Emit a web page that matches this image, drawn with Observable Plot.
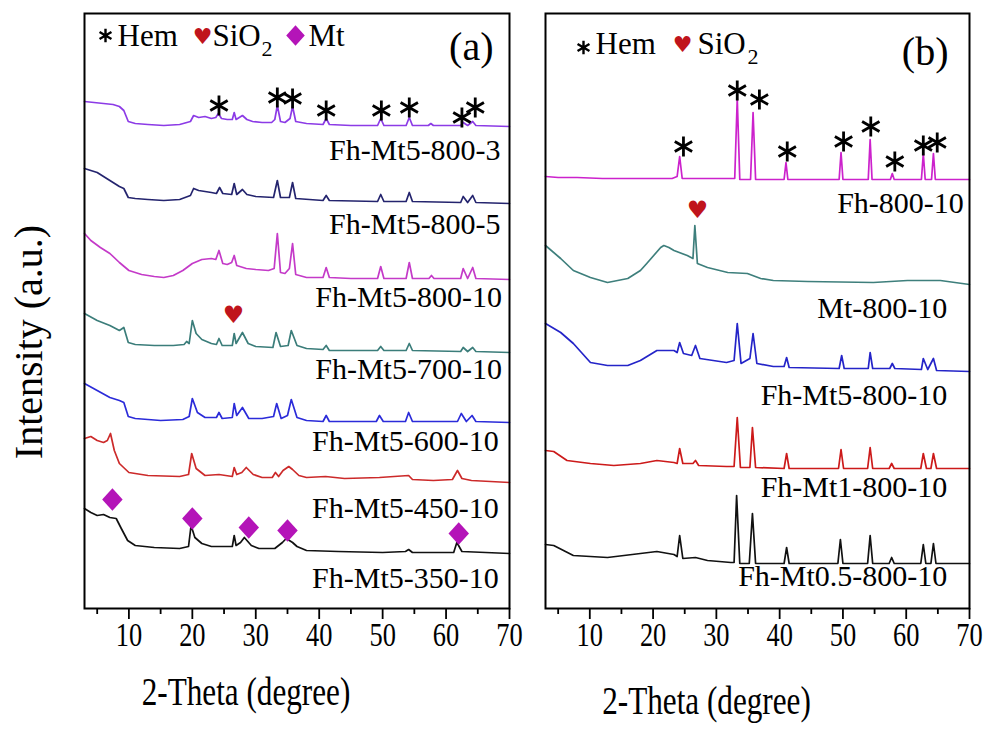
<!DOCTYPE html>
<html><head><meta charset="utf-8">
<script src="https://cdn.jsdelivr.net/npm/d3@7"></script>
<script src="https://cdn.jsdelivr.net/npm/@observablehq/plot@0.6"></script>
<style>
body{margin:0;background:#fff;}
#wrap{position:relative;width:990px;height:735px;overflow:hidden;background:#fff;}
#wrap svg{position:absolute;top:0;}
</style></head><body><div id="wrap"></div>
<script>
// ---------- Data (2-Theta in degrees, intensity in arbitrary units incl. stacking offset) ----------
const a800_3 = [[3,507],[4.5,506],[6,505],[7.5,504],[8.5,502],[9.2,498],[9.9,487],[11,485],[13,484],[15.5,483],[18,484],[19.7,487],[20.2,493],[21,491],[22,492],[23,490],[23.7,491],[24.1,495],[24.6,490],[25.5,489],[26.3,489],[26.6,496],[26.9,489],[27.9,493],[28.6,489],[29.5,487],[31,486],[32.5,486],[33,489],[33.4,503],[33.9,487],[34.6,486],[35.4,490],[35.8,502],[36.3,487],[38,485],[40.6,484],[41.1,490],[41.6,484],[45,483],[49.2,483],[49.7,490],[50.2,483],[53.7,483],[54.2,491],[54.7,483],[57.2,483],[57.6,485],[58,483],[62.3,483],[62.7,486],[63.4,483],[64.2,487],[64.7,483],[70,482]];
const a800_5 = [[3,440],[5,436],[7,428],[8.5,422],[9.2,420],[9.9,411],[11,410],[13,409],[15.5,408],[18,409],[19.7,413],[20.2,420],[21,418],[22,417],[23,416],[23.8,415],[24.3,421],[24.8,415],[26.2,414],[26.6,425],[27,414],[27.9,419],[28.6,414],[30,412],[32.8,411],[33.4,428],[33.9,411],[35.3,411],[35.8,426],[36.3,410],[40.6,408],[41.1,413],[41.6,408],[49.2,407],[49.7,414],[50.2,407],[53.7,407],[54.2,416],[54.7,407],[62.3,406],[62.7,412],[63.4,406],[64.2,413],[64.7,406],[70,405]];
const a800_10 = [[3,375],[4,368],[5.5,361],[7,355],[8.5,346],[10,338],[12,334],[14,332],[15.5,331],[17,333],[18.5,338],[20,345],[21.5,349],[23,350],[23.7,349],[24.2,358],[24.8,345],[25.5,344],[26.2,346],[26.6,353],[27,343],[28.5,340],[30,339],[32,338],[32.9,340],[33.4,375],[33.9,336],[34.6,335],[35.3,340],[35.8,365],[36.3,334],[38,331],[40.6,331],[41.1,341],[41.6,331],[45,330],[49.2,330],[49.7,342],[50.2,330],[53.7,330],[54.2,346],[54.7,330],[57.3,330],[57.7,333],[58.1,330],[62.3,330],[62.7,340],[63.4,330],[64.2,341],[64.7,330],[70,329]];
const a700_10 = [[3,295],[5,288],[7,283],[8.5,278],[9.2,281],[9.9,266],[11,264],[14,263],[17,263],[18.7,264],[19.1,267],[19.5,265],[20,288],[20.6,275],[21.5,269],[23,265],[23.8,264],[24.2,270],[24.7,263],[26.3,263],[26.6,275],[26.9,265],[27.9,276],[28.8,265],[30,262],[32.7,261],[33.2,276],[33.9,262],[35.1,263],[35.6,278],[36.5,263],[38,260],[40.6,259],[41.1,263],[41.6,258],[49.2,258],[49.7,262],[50.2,258],[53.7,258],[54.2,265],[54.7,258],[62.3,257],[62.7,261],[63.4,257],[64.2,261],[64.7,257],[70,256]];
const a600_10 = [[3,225],[5,218],[7,211],[8.5,208],[9.2,206],[9.9,192],[11,190],[15,188],[18.5,189],[19.5,192],[20,210],[20.8,196],[22,191],[23.8,191],[24.2,196],[24.7,190],[26.3,191],[26.6,205],[27,193],[27.9,201],[28.9,190],[31,190],[32.8,192],[33.3,205],[34,190],[35,193],[35.6,209],[36.5,191],[38,188],[40.6,187],[41.1,193],[41.6,187],[49,187],[49.5,193],[50.1,187],[53.6,187],[54.1,196],[54.7,187],[61.8,187],[62.4,195],[63.2,187],[64.1,193],[64.7,187],[70,186]];
const a450_10 = [[3,170],[4,172],[5,168],[6,166],[6.6,168],[7.1,175],[7.7,158],[8.5,145],[10,136],[13,133],[18,132],[19.4,134],[19.9,155],[20.6,140],[22,133],[24.2,134],[26.3,132],[26.6,141],[27,134],[27.8,136],[28.5,141],[29.6,134],[31,131],[32.6,131],[33.1,136],[33.6,132],[34.3,138],[35.2,142],[35.8,139],[36.8,133],[38,131],[41,132],[44,130],[49.5,131],[54.1,133],[54.7,129],[58,128],[61,129],[61.8,138],[62.5,130],[64,128],[70,126]];
const a350_10 = [[3,100],[4,96],[5,93],[6,94],[7,91],[8,90],[8.8,80],[9.8,68],[11,63],[14,61],[18,60],[19.4,62],[19.8,83],[20.4,71],[21.5,65],[23,62],[26.3,62],[26.6,73],[26.9,63],[27.6,66],[28.2,71],[29.3,63],[30.5,60],[33,60],[34.2,66],[34.8,70],[35.8,66],[36.5,62],[38,58],[43,57],[50,56],[53.6,57],[54.1,59],[54.7,56],[61.2,56],[61.7,66],[62.5,57],[70,55]];

const b800_10 = [[3,432],[5,431],[8,431],[12,430],[16,430],[20,430],[23,430],[23.8,432],[24.2,452],[24.6,430],[28,430],[32.9,430],[33.3,510],[33.7,429],[35.4,429],[35.8,496],[36.2,429],[40.7,429],[41,446],[41.3,429],[49.4,429],[49.7,456],[50,429],[54,429],[54.3,469],[54.6,429],[57.5,429],[57.8,435],[58.1,429],[62.4,429],[62.7,455],[63,429],[64,429],[64.3,455],[64.6,429],[70,429]];
const bMt800 = [[3,363],[5.4,350],[7.4,338],[10.1,331],[12.8,326],[16,330],[18,338],[19,345],[20.1,353],[21.2,361],[21.7,363],[22.5,361],[23.3,358],[25.4,353],[26.3,350],[26.6,383],[27,345],[28.6,341],[31.8,336],[34.9,335],[37,330],[39,328],[44.4,327],[54.8,326],[60.2,328],[65.4,328],[70,324]];
const bMt5 = [[3,285],[5.4,276],[7.4,265],[10.1,246],[12.8,243],[16,243],[18,248],[20.6,258],[23.3,258],[23.8,256],[24.2,266],[24.8,255],[26.1,253],[26.7,263],[27.4,250],[29.5,248],[31.6,246],[32.8,248],[33.3,285],[33.9,245],[35.3,250],[35.8,275],[36.4,245],[39,242],[40.7,242],[41.1,251],[41.5,241],[49.4,240],[49.8,253],[50.2,240],[54,240],[54.3,256],[54.7,240],[57.4,240],[57.8,245],[58.2,240],[62.4,239],[62.7,250],[63.4,239],[64.3,250],[64.8,238],[70,237]];
const bMt1 = [[3,158],[4.3,157],[6.4,148],[10.1,145],[13.8,143],[18,145],[20.6,148],[23.3,146],[23.8,145],[24.2,160],[24.7,145],[26.3,145],[26.7,148],[27.2,143],[31.6,142],[32.8,142],[33.3,191],[33.8,141],[35.3,141],[35.7,181],[36.2,141],[40.7,140],[41.1,155],[41.5,140],[49.3,140],[49.7,159],[50.1,140],[53.9,140],[54.3,161],[54.7,140],[57.3,140],[57.7,145],[58.1,140],[62.3,140],[62.7,155],[63.2,140],[63.9,140],[64.3,155],[64.8,140],[70,140]];
const bMt05 = [[3,64],[4.3,63],[7.4,53],[12.8,51],[18,55],[20.6,57],[23.3,54],[23.8,52],[24.2,73],[24.7,50],[26.7,51],[28.6,48],[32.3,46],[32.8,46],[33.2,113],[33.7,45],[35.2,45],[35.7,95],[36.2,45],[40.7,45],[41.1,61],[41.5,45],[49.2,45],[49.6,69],[50,45],[53.9,45],[54.3,73],[54.7,45],[57.3,45],[57.7,51],[58.1,45],[62.3,45],[62.7,64],[63.1,45],[63.9,45],[64.3,65],[64.7,45],[70,45]];

// phase markers: [2-Theta, intensity]
const hemA = [[24.2,503],[33.4,511],[35.8,510],[41.1,498],[49.8,498],[54.2,501],[62.5,491],[64.6,501]];
const sio2A = [[26.5,293]];
const mtA = [[7.4,109],[20.0,90],[28.9,81],[35.0,78],[62.0,75]];
const hemB = [[24.8,462],[33.3,518],[36.8,509],[41.2,457],[50.1,467],[54.4,482],[58.2,447],[62.7,463],[64.9,466]];
const sio2B = [[27.0,398]];

// sample names with label anchor [2-Theta, intensity]
const namesA = ["Fh-Mt5-800-3","Fh-Mt5-800-5","Fh-Mt5-800-10","Fh-Mt5-700-10","Fh-Mt5-600-10","Fh-Mt5-450-10","Fh-Mt5-350-10"];
const labelPosA = [[68.6,458],[68.6,384],[68.8,311],[68.8,239],[68.3,167],[68.3,100],[68.3,30]];
const namesB = ["Fh-800-10","Mt-800-10","Fh-Mt5-800-10","Fh-Mt1-800-10","Fh-Mt0.5-800-10"];
const labelPosB = [[69.1,405],[66.5,300],[66.5,213],[66.5,121],[66.5,32]];

const xTicks = [10,20,30,40,50,60,70];
const xMinor = [5,15,25,35,45,55,65];

// styles
const colorsA = ["#8c3be6","#24246e","#c43ac8","#3b7d7a","#2b2bd9","#cc2a2a","#111111"];
const colorsB = ["#cc22cc","#3e7f7c","#2424c8","#cc1a1a","#111111"];
const seriesA = [a800_3,a800_5,a800_10,a700_10,a600_10,a450_10,a350_10];
const seriesB = [b800_10,bMt800,bMt5,bMt1,bMt05];

const SERIF = "'Liberation Serif','Times New Roman',serif";
const SYM = "'DejaVu Sans',sans-serif";
const HEART = "#c0141c", DIAM = "#b414b8";
const TITLE = "2-Theta (degree)";

// a square standing on its corner (Mt marker)
const diamondSymbol = {
  draw(context, size){
    const r = Math.sqrt(size / 2);
    context.moveTo(0, -r * 1.05);
    context.lineTo(r * 0.95, 0);
    context.lineTo(0, r * 1.05);
    context.lineTo(-r * 0.95, 0);
    context.closePath();
  }
};

function toRows(arr){ return arr.map(([x,y]) => ({x, y})); }

function axes(titleDy){
  return [
    Plot.axisX({ticks: xMinor, tickSize: 6, tickFormat: () => "", strokeWidth: 1.8, label: null}),
    Plot.axisX({ticks: xTicks, tickSize: 11, tickPadding: 3, strokeWidth: 1.8, fontSize: 33, fontFamily: SERIF, label: null, tickFormat: d => String(d)}),
    Plot.text([TITLE], {frameAnchor: "bottom", dx: -51, dy: titleDy, textAnchor: "middle", lineAnchor: "middle", fontSize: 39, fontFamily: SERIF, fill: "black"}),
    Plot.frame({stroke: "black", strokeWidth: 2})
  ];
}

// horizontally condensed serif look of the axis numbers and axis title
function condense(svg){
  d3.select(svg).selectAll("text")
    .filter(function(){ return this.textContent === TITLE || /^\d0$/.test(this.textContent); })
    .each(function(){
      const b = this.getBBox();
      const cx = b.x + b.width / 2;
      const t = this.getAttribute("transform") || "";
      this.setAttribute("transform", `${t} translate(${cx},0) scale(0.8,1) translate(${-cx},0)`);
    });
}

function panel(series, colors, names, pos, hem, sio2, extra, opts){
  const marks = [];
  series.forEach((s, i) => marks.push(Plot.line(toRows(s), {x: "x", y: "y", stroke: colors[i], strokeWidth: 1.7})));
  marks.push(Plot.text(names.map((n, i) => ({n, x: pos[i][0], y: pos[i][1]})), {x: "x", y: "y", text: "n", textAnchor: "end", fontSize: 30, fontFamily: SERIF, fill: "black"}));
  marks.push(Plot.dot(toRows(hem), {x: "x", y: "y", symbol: "asterisk", r: 9.5, stroke: "black", strokeWidth: 2.8}));
  marks.push(Plot.text(toRows(sio2), {x: "x", y: "y", text: () => "\u2665", fill: HEART, fontSize: 24, fontFamily: SYM}));
  marks.push(...extra);
  marks.push(...axes(opts.titleDy));
  return Plot.plot({
    width: opts.width, height: 735,
    marginLeft: opts.ml, marginRight: opts.mr, marginTop: 13, marginBottom: 127,
    x: {domain: [3, 70], label: null},
    y: {domain: [0, 595], axis: null},
    style: {fontFamily: SERIF, color: "black", background: "transparent", overflow: "visible"},
    marks
  });
}

const legendA = [
  Plot.dot([0], {frameAnchor: "top-left", dx: 21, dy: 22, symbol: "asterisk", r: 6.5, stroke: "black", strokeWidth: 2.4}),
  Plot.text(["Hem"], {frameAnchor: "top-left", dx: 33, dy: 32, lineAnchor: "bottom", textAnchor: "start", fontSize: 31, fontFamily: SERIF}),
  Plot.text(["\u2665"], {frameAnchor: "top-left", dx: 118, dy: 23, textAnchor: "middle", lineAnchor: "middle", fill: HEART, fontSize: 22, fontFamily: SYM}),
  Plot.text(["SiO"], {frameAnchor: "top-left", dx: 128, dy: 32, lineAnchor: "bottom", textAnchor: "start", fontSize: 31, fontFamily: SERIF}),
  Plot.text(["2"], {frameAnchor: "top-left", dx: 177, dy: 42, lineAnchor: "bottom", textAnchor: "start", fontSize: 22, fontFamily: SERIF}),
  Plot.dot([0], {frameAnchor: "top-left", dx: 211, dy: 22, symbol: diamondSymbol, r: 7.8, fill: DIAM, stroke: "none"}),
  Plot.text(["Mt"], {frameAnchor: "top-left", dx: 224, dy: 32, lineAnchor: "bottom", textAnchor: "start", fontSize: 31, fontFamily: SERIF}),
  Plot.text(["(a)"], {frameAnchor: "top-right", dx: -16, dy: 34, textAnchor: "end", lineAnchor: "middle", fontSize: 40, fontFamily: SERIF}),
  Plot.dot(toRows(mtA), {x: "x", y: "y", symbol: diamondSymbol, r: 8.6, fill: DIAM, stroke: "none"}),
  Plot.text(["Intensity (a.u.)"], {frameAnchor: "left", dx: -55, dy: 31, rotate: -90, textAnchor: "middle", lineAnchor: "middle", fontSize: 40, fontFamily: SERIF})
];
const legendB = [
  Plot.dot([0], {frameAnchor: "top-left", dx: 38, dy: 34, symbol: "asterisk", r: 6.5, stroke: "black", strokeWidth: 2.4}),
  Plot.text(["Hem"], {frameAnchor: "top-left", dx: 50, dy: 40, lineAnchor: "bottom", textAnchor: "start", fontSize: 31, fontFamily: SERIF}),
  Plot.text(["\u2665"], {frameAnchor: "top-left", dx: 137, dy: 31, textAnchor: "middle", lineAnchor: "middle", fill: HEART, fontSize: 22, fontFamily: SYM}),
  Plot.text(["SiO"], {frameAnchor: "top-left", dx: 152, dy: 40, lineAnchor: "bottom", textAnchor: "start", fontSize: 31, fontFamily: SERIF}),
  Plot.text(["2"], {frameAnchor: "top-left", dx: 202, dy: 50, lineAnchor: "bottom", textAnchor: "start", fontSize: 22, fontFamily: SERIF}),
  Plot.text(["(b)"], {frameAnchor: "top-right", dx: -21, dy: 39, textAnchor: "end", lineAnchor: "middle", fontSize: 40, fontFamily: SERIF})
];

const wrap = document.getElementById("wrap");
const svgA = panel(seriesA, colorsA, namesA, labelPosA, hemA, sio2A, legendA, {width: 515, ml: 84, mr: 6, titleDy: 84});
svgA.style.left = "0px";
wrap.appendChild(svgA);
const svgB = panel(seriesB, colorsB, namesB, labelPosB, hemB, sio2B, legendB, {width: 475, ml: 30, mr: 21, titleDy: 93});
svgB.style.left = "515px";
wrap.appendChild(svgB);
condense(svgA);
condense(svgB);
</script>
</body></html>
